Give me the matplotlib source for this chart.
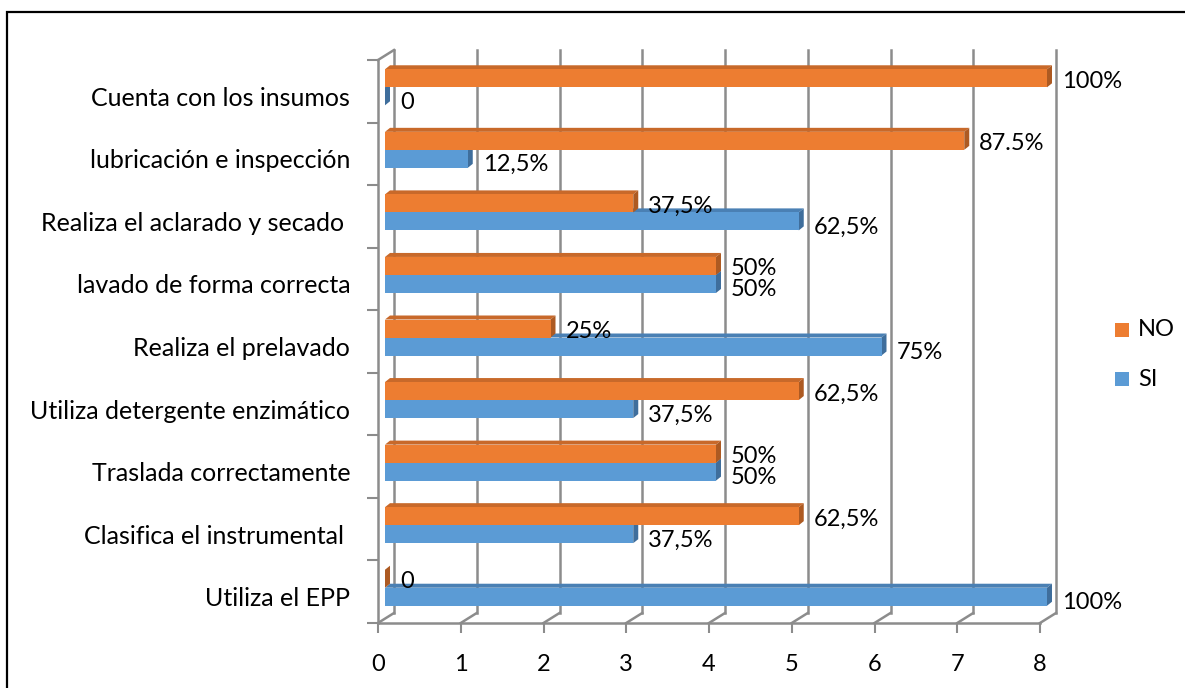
import numpy as np
import matplotlib.pyplot as plt
from matplotlib.patches import Polygon, Rectangle

categories = ['Utiliza el EPP', 'Clasifica el instrumental ', 'Traslada correctamente',
              'Utiliza detergente enzimático', 'Realiza el prelavado', 'lavado de forma correcta',
              'Realiza el aclarado y secado ', 'lubricación e inspección', 'Cuenta con los insumos']
si_values = [8, 3, 4, 3, 6, 4, 5, 1, 0]
no_values = [0, 5, 4, 5, 2, 4, 3, 7, 8]
si_labels = ['100%', '37,5%', '50%', '37,5%', '75%', '50%', '62,5%', '12,5%', '0']
no_labels = ['0', '62,5%', '50%', '62,5%', '25%', '50%', '37,5%', '87.5%', '100%']
xticks = [0, 1, 2, 3, 4, 5, 6, 7, 8]

plt.rcParams['font.family'] = ['Lato', 'DejaVu Sans']

W, H = 1185, 688
fig = plt.figure(figsize=(W / 100, H / 100), dpi=100)
ax_l, ax_b, ax_w, ax_h = 378, 65, 662, 563   # front plane in pixels
ax = fig.add_axes([ax_l / W, ax_b / H, ax_w / W, ax_h / H])
ax.set_xlim(0, 8)
ax.set_ylim(0, 9)
ux, uy = ax_w / 8, ax_h / 9


def px(dx, dy):
    # pixel offset -> data units
    return dx / ux, dy / uy


grid_c = '#8c8c8c'
bx, by = px(16, 10)   # back wall depth
# back wall gridlines + floor diagonals
for x in xticks:
    ax.plot([x + bx, x + bx], [by, 9 + by], color=grid_c, lw=1.8, clip_on=False, zorder=1)
    ax.plot([x, x + bx], [0, by], color=grid_c, lw=1.8, clip_on=False, zorder=1)
# left wall and floor front edge
ax.plot([0, 0], [0, 9], color=grid_c, lw=1.8, clip_on=False, zorder=1)
ax.plot([0, bx], [9, 9 + by], color=grid_c, lw=1.8, clip_on=False, zorder=1)
ax.plot([0, 8], [0, 0], color=grid_c, lw=1.8, clip_on=False, zorder=1)

# bars with a bit of depth
fx, fy = px(7, 4)
dx, dy = px(5, 4)
h = 18 / uy
series = [
    (si_values, si_labels, -1, '#5b9bd5', '#4a80b4', '#3f6e9c', -6),
    (no_values, no_labels, 1, '#ed7d31', '#c8692a', '#ad5a22', -3),
]
z = 2
for vals, labs, side, c_front, c_top, c_side, lab_dy in series:
    for i, v in enumerate(vals):
        c = i + 0.5 + fy
        y0 = c if side > 0 else c - h
        y1 = y0 + h
        x0, x1 = fx, v + fx
        ax.add_patch(Polygon([(x0, y1), (x1, y1), (x1 + dx, y1 + dy), (x0 + dx, y1 + dy)],
                             closed=True, fc=c_top, ec='none', clip_on=False, zorder=z))
        ax.add_patch(Polygon([(x1, y0), (x1, y1), (x1 + dx, y1 + dy), (x1 + dx, y0 + dy)],
                             closed=True, fc=c_side, ec='none', clip_on=False, zorder=z))
        ax.add_patch(Rectangle((x0, y0), v, h, fc=c_front, ec='none', clip_on=False, zorder=z))
        ax.text(x1 + dx + 10 / ux, (y0 + y1) / 2 + lab_dy / uy, labs[i], ha='left', va='center',
                fontsize=17, color='black', zorder=5)
    z += 1

# axes ticks
for s in ax.spines.values():
    s.set_visible(False)
ax.set_yticks(np.arange(0, 10))
ax.set_yticklabels([])
ax.set_yticks(np.arange(9) + 0.5 - 5 / uy, categories, minor=True)
ax.tick_params(axis='y', which='major', length=8, color=grid_c, width=1.5)
ax.tick_params(axis='y', which='minor', length=0, pad=20, labelsize=18)
ax.set_xticks(xticks)
ax.tick_params(axis='x', length=7, color=grid_c, width=1.5, pad=15, labelsize=17)

# legend
for name, color, yc in [('NO', '#ed7d31', 330), ('SI', '#5b9bd5', 379)]:
    fig.patches.append(Rectangle((1115 / W, 1 - (yc + 7) / H), 14 / W, 14 / H, fc=color, ec='none',
                                 transform=fig.transFigure))
    fig.text(1138 / W, 1 - yc / H, name, ha='left', va='center', fontsize=17)

# frame around the chart
fig.patches.append(Rectangle((7 / W, -0.05), 1.2, 1.05 - 12 / H, fill=False, ec='black', lw=1.6,
                             transform=fig.transFigure))

fig.savefig('out.png', dpi=100)
